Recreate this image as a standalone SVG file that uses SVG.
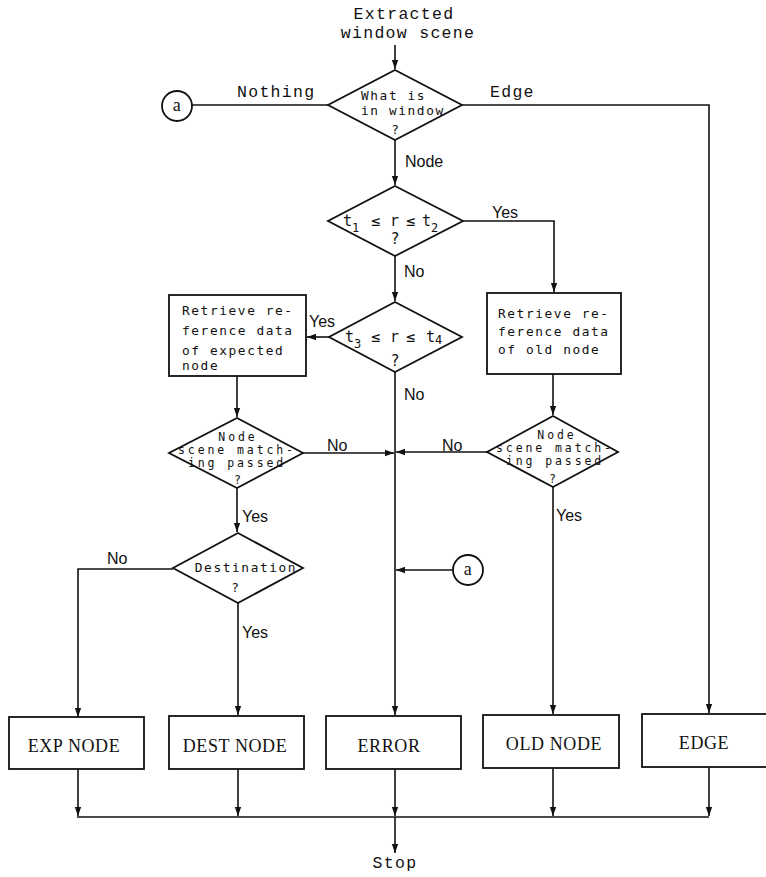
<svg xmlns="http://www.w3.org/2000/svg" width="766" height="877" viewBox="0 0 766 877">
  <defs>
    <marker id="arr" viewBox="0 0 10 10" refX="10" refY="5" markerWidth="9" markerHeight="9" markerUnits="userSpaceOnUse" orient="auto">
      <path d="M0,1.5 L10,5 L0,8.5 z" fill="#111"/>
    </marker>
  </defs>
  <style>
    .ln{fill:none;stroke:#111;stroke-width:1.6}
    .sh{fill:#fff;stroke:#111;stroke-width:1.8}
    .tm{font-family:"Liberation Mono","Courier New",monospace;font-size:16.5px;fill:#111;letter-spacing:1.3px}
    .tg{font-family:"DejaVu Sans Mono",monospace;font-size:12.8px;fill:#111;letter-spacing:1.6px}
    .tr{font-family:"DejaVu Sans Mono",monospace;font-size:15px;fill:#111}
    .tn{font-family:"DejaVu Sans Mono",monospace;font-size:11.5px;fill:#111;letter-spacing:2.9px}
    .ts{font-family:"Liberation Sans",Arial,sans-serif;font-size:16px;fill:#111}
    .tb{font-family:"Liberation Serif","Times New Roman",serif;font-size:18px;fill:#111;letter-spacing:0.6px}
    .sub{font-size:12px}
  </style>
  <rect width="766" height="877" fill="#fff"/>

  <!-- connectors -->
  <g id="connectors">
    <path class="ln" d="M395,45 V69" marker-end="url(#arr)"/>
    <path class="ln" d="M192,105 H328"/>
    <path class="ln" d="M462,105 H709 V713" marker-end="url(#arr)"/>
    <path class="ln" d="M395,140 V185" marker-end="url(#arr)"/>
    <path class="ln" d="M463,221 H554 V292" marker-end="url(#arr)"/>
    <path class="ln" d="M395,256 V301" marker-end="url(#arr)"/>
    <path class="ln" d="M329,337 H307" marker-end="url(#arr)"/>
    <path class="ln" d="M395,372 V715" marker-end="url(#arr)"/>
    <path class="ln" d="M237,376 V417" marker-end="url(#arr)"/>
    <path class="ln" d="M553,374 V415" marker-end="url(#arr)"/>
    <path class="ln" d="M303,453 H394" marker-end="url(#arr)"/>
    <path class="ln" d="M487,452 H396" marker-end="url(#arr)"/>
    <path class="ln" d="M237,488 V532" marker-end="url(#arr)"/>
    <path class="ln" d="M173,569 H78 V717" marker-end="url(#arr)"/>
    <path class="ln" d="M238,603 V715" marker-end="url(#arr)"/>
    <path class="ln" d="M553,487 V714" marker-end="url(#arr)"/>
    <path class="ln" d="M453,570 H396" marker-end="url(#arr)"/>
    <path class="ln" d="M78,769 V816" marker-end="url(#arr)"/>
    <path class="ln" d="M238,769 V816" marker-end="url(#arr)"/>
    <path class="ln" d="M395,769 V816" marker-end="url(#arr)"/>
    <path class="ln" d="M553,768 V816" marker-end="url(#arr)"/>
    <path class="ln" d="M709,767 V816" marker-end="url(#arr)"/>
    <path class="ln" d="M77,817 H709"/>
    <path class="ln" d="M395,817 V853" marker-end="url(#arr)"/>

    <text class="tm" x="237" y="97">Nothing</text>
    <text class="tm" x="490" y="97">Edge</text>
    <text class="ts" x="405" y="167">Node</text>
    <text class="ts" x="492" y="218">Yes</text>
    <text class="ts" x="404" y="277">No</text>
    <text class="ts" x="309" y="327">Yes</text>
    <text class="ts" x="404" y="400">No</text>
    <text class="ts" x="327" y="451">No</text>
    <text class="ts" x="442" y="451">No</text>
    <text class="ts" x="242" y="522">Yes</text>
    <text class="ts" x="556" y="521">Yes</text>
    <text class="ts" x="107" y="564">No</text>
    <text class="ts" x="242" y="638">Yes</text>
  </g>

  <g id="start">
    <text class="tm" x="404" y="19" text-anchor="middle">Extracted</text>
    <text class="tm" x="408" y="38" text-anchor="middle">window scene</text>
  </g>

  <g id="what-in-window">
    <polygon class="sh" points="395,70 462,105 395,140 328,105"/>
    <text class="tg" x="361" y="100">What is</text>
    <text class="tg" x="361" y="115">in window</text>
    <text class="tg" x="396" y="134" text-anchor="middle">?</text>
  </g>

  <g id="connector-a-top">
    <circle class="sh" cx="177" cy="106" r="15"/>
    <text class="tb" x="177" y="111" text-anchor="middle" letter-spacing="0">a</text>
  </g>

  <g id="range-t1-t2">
    <polygon class="sh" points="395,186 463,221 395,256 328,221"/>
    <text class="tr" x="343" y="226">t<tspan class="sub" dy="6">1</tspan><tspan dy="-6" x="371">≤</tspan><tspan x="390">r</tspan><tspan x="406">≤</tspan><tspan x="422">t</tspan><tspan class="sub" dy="6">2</tspan></text>
    <text class="tr" x="395" y="244" text-anchor="middle">?</text>
  </g>

  <g id="range-t3-t4">
    <polygon class="sh" points="395,302 462,337 395,372 329,337"/>
    <text class="tr" x="345" y="342">t<tspan class="sub" dy="6">3</tspan><tspan dy="-6" x="371">≤</tspan><tspan x="390">r</tspan><tspan x="406">≤</tspan><tspan x="426">t</tspan><tspan class="sub" dy="2">4</tspan></text>
    <text class="tr" x="395" y="366" text-anchor="middle">?</text>
  </g>

  <g id="retrieve-expected">
    <rect class="sh" x="169" y="295" width="137" height="81"/>
    <text class="tg" x="182" y="315">Retrieve re-</text>
    <text class="tg" x="182" y="335">ference data</text>
    <text class="tg" x="182" y="355">of expected</text>
    <text class="tg" x="182" y="370">node</text>
  </g>

  <g id="retrieve-old">
    <rect class="sh" x="487" y="293" width="134" height="81"/>
    <text class="tg" x="498" y="318">Retrieve re-</text>
    <text class="tg" x="498" y="336">ference data</text>
    <text class="tg" x="498" y="354">of old node</text>
  </g>

  <g id="match-expected">
    <polygon class="sh" points="237,418 303,453 237,488 169,453"/>
    <text class="tn" x="238" y="441" text-anchor="middle">Node</text>
    <text class="tn" x="237" y="454" text-anchor="middle">scene match-</text>
    <text class="tn" x="237" y="467" text-anchor="middle">ing passed</text>
    <text class="tn" x="239" y="484" text-anchor="middle">?</text>
  </g>

  <g id="match-old">
    <polygon class="sh" points="553,416 618,452 553,487 487,452"/>
    <text class="tn" x="557" y="439" text-anchor="middle">Node</text>
    <text class="tn" x="555" y="452" text-anchor="middle">scene match-</text>
    <text class="tn" x="555" y="465" text-anchor="middle">ing passed</text>
    <text class="tn" x="554" y="483" text-anchor="middle">?</text>
  </g>

  <g id="destination">
    <polygon class="sh" points="238,533 303,568 238,603 173,568"/>
    <text class="tg" x="246" y="572" text-anchor="middle">Destination</text>
    <text class="tg" x="236" y="592" text-anchor="middle">?</text>
  </g>

  <g id="connector-a-bottom">
    <circle class="sh" cx="468" cy="570" r="15"/>
    <text class="tb" x="468" y="575" text-anchor="middle" letter-spacing="0">a</text>
  </g>

  <g id="exp-node">
    <rect class="sh" x="9" y="717" width="135" height="52"/>
    <text class="tb" x="74" y="752" text-anchor="middle">EXP NODE</text>
  </g>
  <g id="dest-node">
    <rect class="sh" x="169" y="716" width="135" height="53"/>
    <text class="tb" x="235" y="752" text-anchor="middle">DEST NODE</text>
  </g>
  <g id="error">
    <rect class="sh" x="326" y="716" width="135" height="53"/>
    <text class="tb" x="389" y="752" text-anchor="middle">ERROR</text>
  </g>
  <g id="old-node">
    <rect class="sh" x="483" y="715" width="136" height="53"/>
    <text class="tb" x="554" y="750" text-anchor="middle">OLD NODE</text>
  </g>
  <g id="edge">
    <rect class="sh" x="642" y="714" width="134" height="53"/>
    <text class="tb" x="704" y="749" text-anchor="middle" letter-spacing="1.5">EDGE</text>
  </g>

  <g id="stop">
    <text class="tm" x="395" y="868" text-anchor="middle">Stop</text>
  </g>
</svg>
